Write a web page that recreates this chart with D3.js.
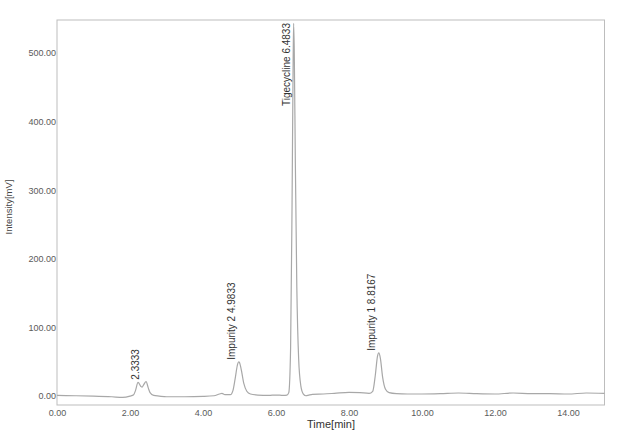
<!DOCTYPE html>
<html>
<head>
<meta charset="utf-8">
<script src="https://cdn.jsdelivr.net/npm/d3@7/dist/d3.min.js"></script>
<style>
  html, body { margin: 0; padding: 0; background: #fff; }
  svg { display: block; font-family: "Liberation Sans", Arial, sans-serif; }
</style>
</head>
<body>
<svg id="chart" width="619" height="443"></svg>
<script>
// ---- data ----
const times = [0, 0.5, 1.0, 1.5, 1.8, 2.0, 2.1, 2.15, 2.22, 2.3, 2.33, 2.38, 2.44, 2.5, 2.55, 2.65, 2.8, 3.0, 3.5, 4.0, 4.3, 4.45, 4.52, 4.6, 4.75, 4.82, 4.88, 4.95, 4.9833, 5.0, 5.05, 5.12, 5.2, 5.3, 5.5, 5.8, 6.0, 6.2, 6.3, 6.35, 6.40, 6.44, 6.47, 6.4833, 6.50, 6.53, 6.57, 6.62, 6.68, 6.75, 6.82, 6.9, 7.0, 7.3, 7.6, 8.0, 8.3, 8.55, 8.65, 8.72, 8.78, 8.8167, 8.86, 8.92, 9.0, 9.1, 9.3, 9.6, 10.0, 10.5, 11.0, 11.5, 12.0, 12.5, 13.0, 13.5, 14.0, 14.5, 15.0];
const intensity = [1, 0.5, 0, -1, -2, 0, 2, 8, 20, 14, 13, 17, 21, 12, 5, 1, 0, -1, -1, -0.5, 0.5, 3, 4, 2, 2, 8, 25, 47, 50, 49, 38, 18, 7, 3, 1.5, 1, 1.5, 1, 1.5, 5, 70, 280, 490, 543, 505, 340, 160, 55, 15, 3, 0.5, 1.5, 2.5, 3, 4, 5.5, 5, 4, 7, 30, 58, 63, 55, 28, 10, 5, 3.5, 3, 3, 3.5, 4.5, 3.5, 3, 4.5, 3.5, 3.5, 3, 4.5, 4];
const peakTimes = [2.3333, 4.9833, 6.4833, 8.8167];
const peakHeights = [21, 50, 543, 63];
const peakNames = ["2.3333", "Impurity 2 4.9833", "Tigecycline 6.4833", "Impurity 1 8.8167"];
const xTicks = [0, 2, 4, 6, 8, 10, 12, 14];
const yTicks = [0, 100, 200, 300, 400, 500];
const xDomain = [0, 15];
const yDomain = [-13, 548];

// ---- layout ----
const svg = d3.select("#chart");
const mLeft = 57, mRight = 604.5, mTop = 20, mBottom = 405;

const x = d3.scaleLinear().domain(xDomain).range([mLeft, mRight]);
const y = d3.scaleLinear().domain(yDomain).range([mBottom, mTop]);

// frame
svg.append("rect")
  .attr("x", mLeft).attr("y", mTop)
  .attr("width", mRight - mLeft).attr("height", mBottom - mTop)
  .attr("fill", "none").attr("stroke", "#bdbdbd").attr("stroke-width", 1);

// x axis
const xAxis = d3.axisBottom(x).tickValues(xTicks).tickFormat(d3.format(".2f")).tickSize(0).tickPadding(5);
const gx = svg.append("g").attr("transform", `translate(0,${mBottom})`).call(xAxis);
gx.select(".domain").remove();
gx.selectAll("text").attr("fill", "#5a5a5a").attr("font-size", 9).attr("font-family", "Liberation Sans, Arial, sans-serif");

// y axis
const yAxis = d3.axisLeft(y).tickValues(yTicks).tickFormat(d3.format(".2f")).tickSize(0).tickPadding(1);
const gy = svg.append("g").attr("transform", `translate(${mLeft},0)`).call(yAxis);
gy.select(".domain").remove();
gy.selectAll("text").attr("fill", "#5a5a5a").attr("font-size", 9).attr("font-family", "Liberation Sans, Arial, sans-serif");

// axis titles
svg.append("text").attr("x", 331).attr("y", 428)
  .attr("text-anchor", "middle").attr("font-size", 11).attr("fill", "#333")
  .text("Time[min]");
svg.append("text").attr("transform", "translate(12,207) rotate(-90)")
  .attr("text-anchor", "middle").attr("font-size", 9.5).attr("fill", "#444")
  .text("Intensity[mV]");

// chromatogram
const data = times.map((t, i) => ({ t, v: intensity[i] }));
const line = d3.line().x(d => x(d.t)).y(d => y(d.v)).curve(d3.curveMonotoneX);
svg.append("path").datum(data)
  .attr("d", line)
  .attr("fill", "none").attr("stroke", "#a8a8a8").attr("stroke-width", 1.2);

// peak labels
peakTimes.forEach((t, i) => {
  const px = x(t) - 3.5;
  const fs = 10;
  const txt = svg.append("text")
    .attr("font-size", fs).attr("fill", "#333")
    .text(peakNames[i]);
  const len = txt.node().getComputedTextLength();
  let py = y(peakHeights[i]) - 2;
  if (py - len < mTop + 3) py = mTop + 3 + len;
  txt.attr("transform", `translate(${px},${py}) rotate(-90)`);
});
</script>
</body>
</html>
